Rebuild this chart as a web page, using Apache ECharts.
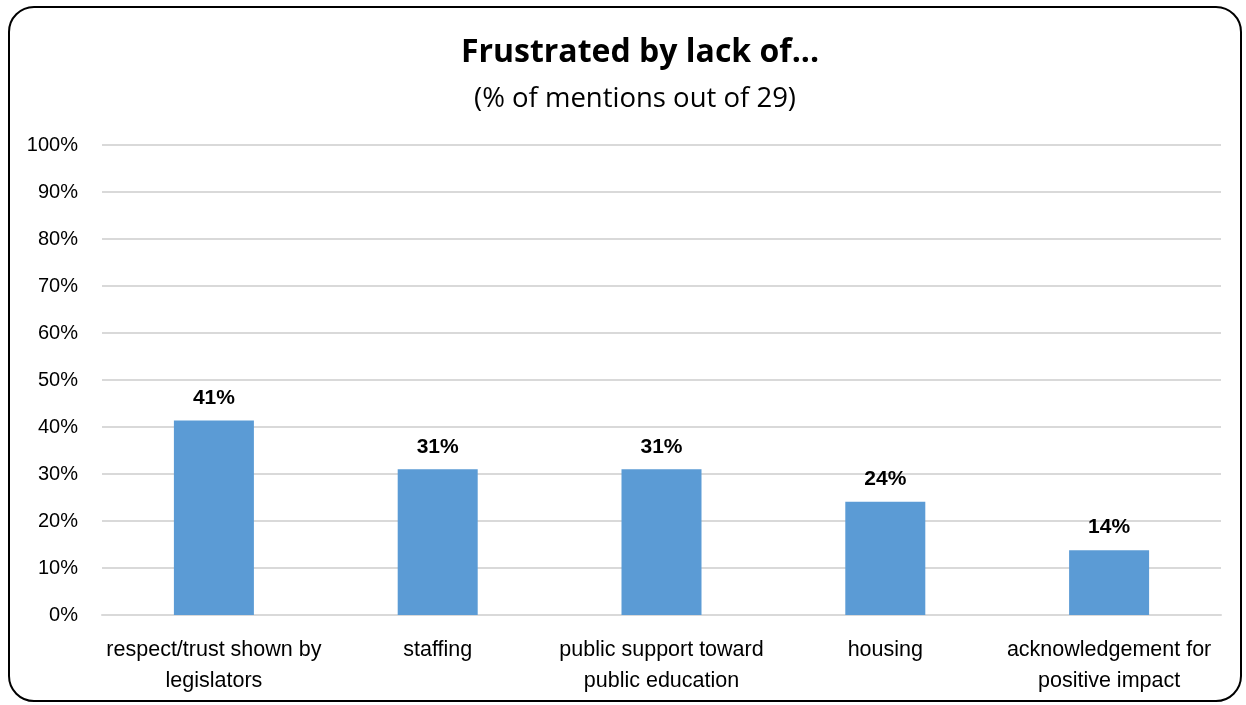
<!DOCTYPE html>
<html>
<head>
<meta charset="utf-8">
<script src="https://cdn.jsdelivr.net/npm/echarts@6/dist/echarts.min.js"></script>
<style>
  html, body { margin: 0; padding: 0; background: #fff; }
  #frame {
    position: absolute; left: 8px; top: 6px; width: 1234px; height: 696px;
    border: 2px solid #000; border-radius: 26px; box-sizing: border-box;
  }
  #chart { position: absolute; left: 0; top: 0; width: 1246px; height: 705px; }
</style>
</head>
<body>
<div id="frame"></div>
<div id="chart"></div>
<script>
var categories = ['respect/trust shown by\nlegislators', 'staffing', 'public support toward\npublic education', 'housing', 'acknowledgement for\npositive impact'];
var values = [41.4, 31.0, 31.0, 24.1, 13.8];
var yTicks = [0, 10, 20, 30, 40, 50, 60, 70, 80, 90, 100];

var myChart = echarts.init(document.getElementById('chart'));
var option = {
    title: [{
        text: 'Frustrated by lack of...',
        left: 635,
        textAlign: 'center',
        top: 32,
        textStyle: { fontFamily: 'Open Sans', fontSize: 32, fontWeight: 'bold', color: '#000' }
    }, {
        text: '(% of mentions out of 29)',
        left: 630,
        textAlign: 'center',
        top: 80,
        textStyle: { fontFamily: 'Open Sans', fontSize: 27.5, fontWeight: 'normal', color: '#000' }
    }],
    grid: { left: 102, right: 25, top: 145, bottom: 90 },
    xAxis: {
        type: 'category',
        data: categories,
        axisLine: { show: true, lineStyle: { color: '#d9d9d9', width: 2 } },
        axisTick: { show: false },
        axisLabel: {
            fontFamily: 'Liberation Sans', fontSize: 21.5, color: '#000',
            margin: 20, lineHeight: 31, interval: 0
        }
    },
    yAxis: {
        type: 'value',
        min: yTicks[0],
        max: yTicks[yTicks.length - 1],
        interval: 10,
        axisLine: { show: false },
        axisTick: { show: false },
        splitLine: { lineStyle: { color: '#d9d9d9', width: 2 } },
        axisLabel: {
            fontFamily: 'Liberation Sans', fontSize: 20, color: '#000', margin: 24,
            formatter: function (v) { return v + '%'; }
        }
    },
    series: [{
        type: 'bar',
        data: values,
        barWidth: 80,
        itemStyle: { color: '#5b9bd5' },
        label: {
            show: true,
            position: 'top',
            distance: 12,
            fontFamily: 'Liberation Sans', fontSize: 21, fontWeight: 'bold', color: '#000',
            formatter: function (p) { return Math.round(p.value) + '%'; }
        }
    }]
};
myChart.setOption(option, true);
</script>
</body>
</html>
